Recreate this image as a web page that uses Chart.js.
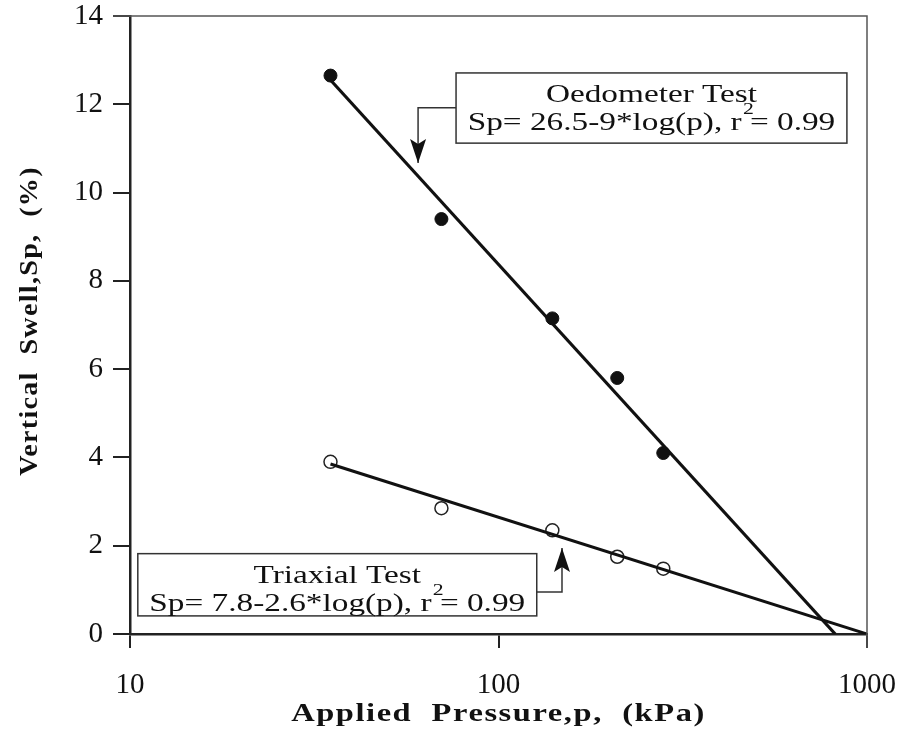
<!doctype html>
<html>
<head>
<meta charset="utf-8">
<script src="https://cdn.jsdelivr.net/npm/chart.js@4.4.0/dist/chart.umd.min.js"></script>
</head>
<body style="margin:0;background:#fff;">
<div style="width:903px;height:739px;position:relative;">
    <canvas id="swellChart"></canvas>
</div>
<script>
// readings: pressure (kPa) and vertical swell (%)
const pressures = [35, 70, 140, 210, 280];
const oedometerSwell = [12.65, 9.4, 7.15, 5.8, 4.1];
const triaxialSwell = [3.9, 2.85, 2.35, 1.75, 1.48];

// fitted lines as drawn (end points)
const oedometerFitX = [35, 820];
const oedometerFitY = [12.55, 0];
const triaxialFitX = [35, 1000];
const triaxialFitY = [3.85, 0];

const xTicks = [10, 100, 1000];
const yTicks = [0, 2, 4, 6, 8, 10, 12, 14];

const xTitle = 'Applied  Pressure,p,  (kPa)';
const yTitle = 'Vertical  Swell,Sp,  (%)';

const serif = "'Liberation Serif', 'Times New Roman', serif";

const pts = (xs, ys) => xs.map((x, i) => ({ x: x, y: ys[i] }));

// callout boxes, in data units (kPa, %)
const callouts = [
    {
        title: 'Oedometer Test',
        eq: 'Sp= 26.5-9*log(p), r',
        tail: ' = 0.99',
        box: [76.7, 12.71, 882, 11.12],
        arrow: [[76.7, 11.92], [60.5, 11.92], [60.5, 10.67]],
        dir: 'down'
    },
    {
        title: 'Triaxial Test',
        eq: 'Sp= 7.8-2.6*log(p), r',
        tail: ' = 0.99',
        box: [10.5, 1.82, 127, 0.41],
        arrow: [[127, 0.95], [148.7, 0.95], [148.7, 1.95]],
        dir: 'up'
    }
];

function stretchedText(ctx, text, x, y, sx, angle) {
    ctx.save();
    ctx.translate(x, y);
    if (angle) ctx.rotate(angle);
    ctx.scale(sx, 1);
    ctx.fillText(text, 0, 0);
    ctx.restore();
}

const calloutPlugin = {
    id: 'callouts',
    afterDraw(chart) {
        const ctx = chart.ctx;
        const xs = chart.scales.x, ys = chart.scales.y;
        const a = chart.chartArea;

        // frame: top and right edges
        ctx.save();
        ctx.strokeStyle = '#555';
        ctx.lineWidth = 1.5;
        ctx.beginPath();
        ctx.moveTo(a.left - 17, a.top);
        ctx.lineTo(a.right, a.top);
        ctx.lineTo(a.right, a.bottom + 14);
        ctx.stroke();
        ctx.restore();

        // axis titles (bold, stretched like the scan)
        ctx.save();
        ctx.fillStyle = '#111';
        ctx.font = 'bold 25px ' + serif;
        ctx.letterSpacing = '1.2px';
        ctx.textAlign = 'center';
        ctx.textBaseline = 'middle';
        stretchedText(ctx, xTitle, (a.left + a.right) / 2, 715, 1.3, 0);
        stretchedText(ctx, yTitle, 31, (a.top + a.bottom) / 2 - 4, 1.12, -Math.PI / 2);
        ctx.restore();

        callouts.forEach(c => {
            const l = xs.getPixelForValue(c.box[0]);
            const t = ys.getPixelForValue(c.box[1]);
            const r = xs.getPixelForValue(c.box[2]);
            const b = ys.getPixelForValue(c.box[3]);
            ctx.save();
            ctx.fillStyle = '#fff';
            ctx.fillRect(l, t, r - l, b - t);
            ctx.strokeStyle = '#333';
            ctx.lineWidth = 1.5;
            ctx.strokeRect(l, t, r - l, b - t);

            // leader line + arrow head
            const p = c.arrow.map(q => [xs.getPixelForValue(q[0]), ys.getPixelForValue(q[1])]);
            ctx.lineWidth = 1.5;
            ctx.beginPath();
            ctx.moveTo(p[0][0], p[0][1]);
            ctx.lineTo(p[1][0], p[1][1]);
            ctx.lineTo(p[2][0], p[2][1]);
            ctx.stroke();
            const tip = p[2];
            const s = c.dir === 'down' ? -1 : 1;
            ctx.fillStyle = '#111';
            ctx.beginPath();
            ctx.moveTo(tip[0], tip[1]);
            ctx.lineTo(tip[0] - 8, tip[1] + s * 24);
            ctx.lineTo(tip[0], tip[1] + s * 19);
            ctx.lineTo(tip[0] + 8, tip[1] + s * 24);
            ctx.closePath();
            ctx.fill();

            // text, stretched like the scan
            const cx = (l + r) / 2;
            const sx = 1.28;
            ctx.fillStyle = '#111';
            ctx.font = '26px ' + serif;
            ctx.textBaseline = 'alphabetic';
            ctx.translate(cx, 0);
            ctx.scale(sx, 1);
            ctx.textAlign = 'center';
            ctx.fillText(c.title, 0, t + 29);
            const w1 = ctx.measureText(c.eq).width;
            const w2 = ctx.measureText(c.tail).width;
            const start = -(w1 + w2) / 2;
            ctx.textAlign = 'left';
            ctx.fillText(c.eq + c.tail, start, t + 57);
            ctx.font = '17px ' + serif;
            ctx.fillText('2', start + w1 + 1, t + 41);
            ctx.restore();
        });
    }
};

new Chart(document.getElementById('swellChart'), {
    type: 'scatter',
    data: {
        datasets: [
            {
                label: 'Oedometer fit',
                data: pts(oedometerFitX, oedometerFitY),
                showLine: true,
                borderColor: '#111',
                borderWidth: 3.2,
                pointRadius: 0
            },
            {
                label: 'Triaxial fit',
                data: pts(triaxialFitX, triaxialFitY),
                showLine: true,
                borderColor: '#111',
                borderWidth: 3,
                pointRadius: 0
            },
            {
                label: 'Oedometer Test',
                data: pts(pressures, oedometerSwell),
                pointRadius: 6.5,
                pointBackgroundColor: '#111',
                pointBorderColor: '#111',
                pointBorderWidth: 1
            },
            {
                label: 'Triaxial Test',
                data: pts(pressures, triaxialSwell),
                pointRadius: 6.5,
                pointBackgroundColor: '#fff',
                pointBorderColor: '#222',
                pointBorderWidth: 1.5
            }
        ]
    },
    options: {
        responsive: true,
        maintainAspectRatio: false,
        animation: false,
        layout: { padding: { top: 16, right: 36, left: 0, bottom: 0 } },
        plugins: {
            legend: { display: false },
            tooltip: { enabled: false }
        },
        scales: {
            x: {
                type: 'logarithmic',
                min: 10,
                max: 1000,
                afterBuildTicks: s => { s.ticks = xTicks.map(v => ({ value: v })); },
                afterFit: s => {
                    s.height = 105;
                    s.paddingLeft = 0;
                    s.paddingRight = 0;
                },
                ticks: {
                    callback: v => String(v),
                    color: '#111',
                    font: { family: serif, size: 29 },
                    padding: 20,
                    maxRotation: 0,
                    autoSkip: false
                },
                grid: { drawOnChartArea: false, tickLength: 14, color: '#222', lineWidth: 2 },
                border: { display: true, color: '#222', width: 2.5 },
                title: { display: false, text: xTitle }
            },
            y: {
                min: 0,
                max: 14,
                afterBuildTicks: s => { s.ticks = yTicks.map(v => ({ value: v })); },
                afterFit: s => {
                    s.width = 130;
                    s.paddingTop = 0;
                    s.paddingBottom = 0;
                },
                ticks: {
                    color: '#111',
                    font: { family: serif, size: 29 },
                    padding: 10
                },
                grid: { drawOnChartArea: false, tickLength: 17, color: '#222', lineWidth: 2 },
                border: { display: true, color: '#222', width: 2.5 },
                title: { display: false, text: yTitle }
            }
        }
    },
    plugins: [calloutPlugin]
});
</script>
</body>
</html>
